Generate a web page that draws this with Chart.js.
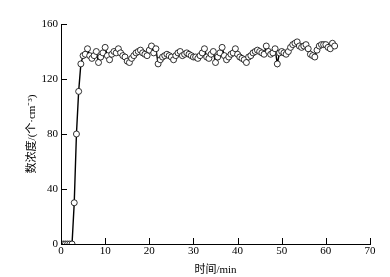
<!DOCTYPE html>
<html lang="zh">
<head>
  <meta charset="UTF-8">
  <title>chart</title>
  <style>
    body { margin: 0; background: #fff; }
    #box { width: 390px; height: 277px; }
  </style>
</head>
<body>
  <div id="box"><canvas id="myChart"></canvas></div>

  <script src="https://cdn.jsdelivr.net/npm/chart.js"></script>
  <script>
    // 时间 (min)
    const times = [0.5, 1, 1.5, 2, 2.5, 3, 3.5, 4, 4.5, 5, 5.5, 6, 6.5, 7, 7.5, 8, 8.5, 9, 9.5, 10,
      10.5, 11, 11.5, 12, 12.5, 13, 13.5, 14, 14.5, 15, 15.5, 16, 16.5, 17, 17.5, 18, 18.5, 19, 19.5, 20,
      20.5, 21, 21.5, 22, 22.5, 23, 23.5, 24, 24.5, 25, 25.5, 26, 26.5, 27, 27.5, 28, 28.5, 29, 29.5, 30,
      30.5, 31, 31.5, 32, 32.5, 33, 33.5, 34, 34.5, 35, 35.5, 36, 36.5, 37, 37.5, 38, 38.5, 39, 39.5, 40,
      40.5, 41, 41.5, 42, 42.5, 43, 43.5, 44, 44.5, 45, 45.5, 46, 46.5, 47, 47.5, 48, 48.5, 49, 49.5, 50,
      50.5, 51, 51.5, 52, 52.5, 53, 53.5, 54, 54.5, 55, 55.5, 56, 56.5, 57, 57.5, 58, 58.5, 59, 59.5, 60,
      60.5, 61, 61.5, 62]
    // 数浓度 (个/cm3)
    const conc = [0, 0, 0, 0, 0, 30, 80, 111, 131, 137, 138, 142, 137, 135, 137, 140, 132, 136, 139, 143,
      137, 134, 138, 140, 139, 142, 139, 137, 136, 133, 132, 135, 137, 139, 140, 141, 139, 138, 137, 141,
      144, 139, 142, 131, 134, 136, 137, 138, 137, 136, 134, 137, 139, 140, 137, 138, 139, 138, 137, 136,
      136, 135, 137, 139, 142, 136, 135, 138, 140, 132, 136, 139, 143, 137, 134, 136, 138, 139, 142, 138,
      136, 135, 134, 132, 136, 137, 139, 140, 141, 140, 139, 138, 144, 140, 138, 139, 142, 131, 139, 140,
      139, 138, 140, 143, 145, 146, 147, 144, 143, 144, 145, 142, 138, 137, 136, 141, 144, 145, 145, 145,
      143, 142, 146, 144]
    const xTicks = [0, 10, 20, 30, 40, 50, 60, 70]
    const yTicks = [0, 40, 80, 120, 160]

    const points = times.map((t, i) => ({ x: t, y: conc[i] }))
    const font = { family: "'Liberation Serif', 'Noto Sans CJK SC', serif", size: 11 }

    // inward tick marks, placed through the scales
    const innerTicks = {
      id: 'innerTicks',
      afterDraw(chart) {
        const { ctx, scales: { x, y } } = chart
        ctx.save()
        ctx.strokeStyle = '#000'
        ctx.lineWidth = 1
        ctx.beginPath()
        x.ticks.forEach(t => {
          const px = Math.round(x.getPixelForValue(t.value)) + 0.5
          ctx.moveTo(px, y.bottom)
          ctx.lineTo(px, y.bottom - 6)
        })
        y.ticks.forEach(t => {
          const py = Math.round(y.getPixelForValue(t.value)) + 0.5
          ctx.moveTo(x.left, py)
          ctx.lineTo(x.left + 6, py)
        })
        ctx.stroke()
        ctx.restore()
      }
    }

    new Chart(document.getElementById('myChart'), {
      type: 'line',
      data: {
        datasets: [{
          data: points,
          borderColor: '#000',
          borderWidth: 1.4,
          pointRadius: 3,
          pointBorderWidth: 0.8,
          pointBorderColor: '#000',
          pointBackgroundColor: '#fff',
          tension: 0
        }]
      },
      options: {
        responsive: true,
        maintainAspectRatio: false,
        animation: false,
        layout: { padding: { left: 26, right: 20, top: 24, bottom: 0 } },
        plugins: { legend: { display: false }, tooltip: { enabled: false } },
        scales: {
          x: {
            type: 'linear',
            min: 0, max: 70,
            afterBuildTicks: s => { s.ticks = xTicks.map(v => ({ value: v })) },
            afterFit: s => { s.height = 33 },
            grid: { drawOnChartArea: false, drawTicks: false, color: '#000' },
            border: { color: '#000', width: 1 },
            ticks: { color: '#000', font: font, padding: 1, maxRotation: 0 },
            title: { display: true, text: '时间/min', color: '#000', font: font, padding: { top: 0, bottom: 0 } }
          },
          y: {
            min: 0, max: 160,
            afterBuildTicks: s => { s.ticks = yTicks.map(v => ({ value: v })) },
            afterFit: s => { s.width = 35 },
            grid: { drawOnChartArea: false, drawTicks: false, color: '#000' },
            border: { color: '#000', width: 1 },
            ticks: { color: '#000', font: font, padding: 3 },
            title: { display: true, text: '数浓度/(个·cm⁻³)', color: '#000', font: font, padding: { top: 0, bottom: 0 } }
          }
        }
      },
      plugins: [innerTicks]
    });
  </script>
</body>
</html>
